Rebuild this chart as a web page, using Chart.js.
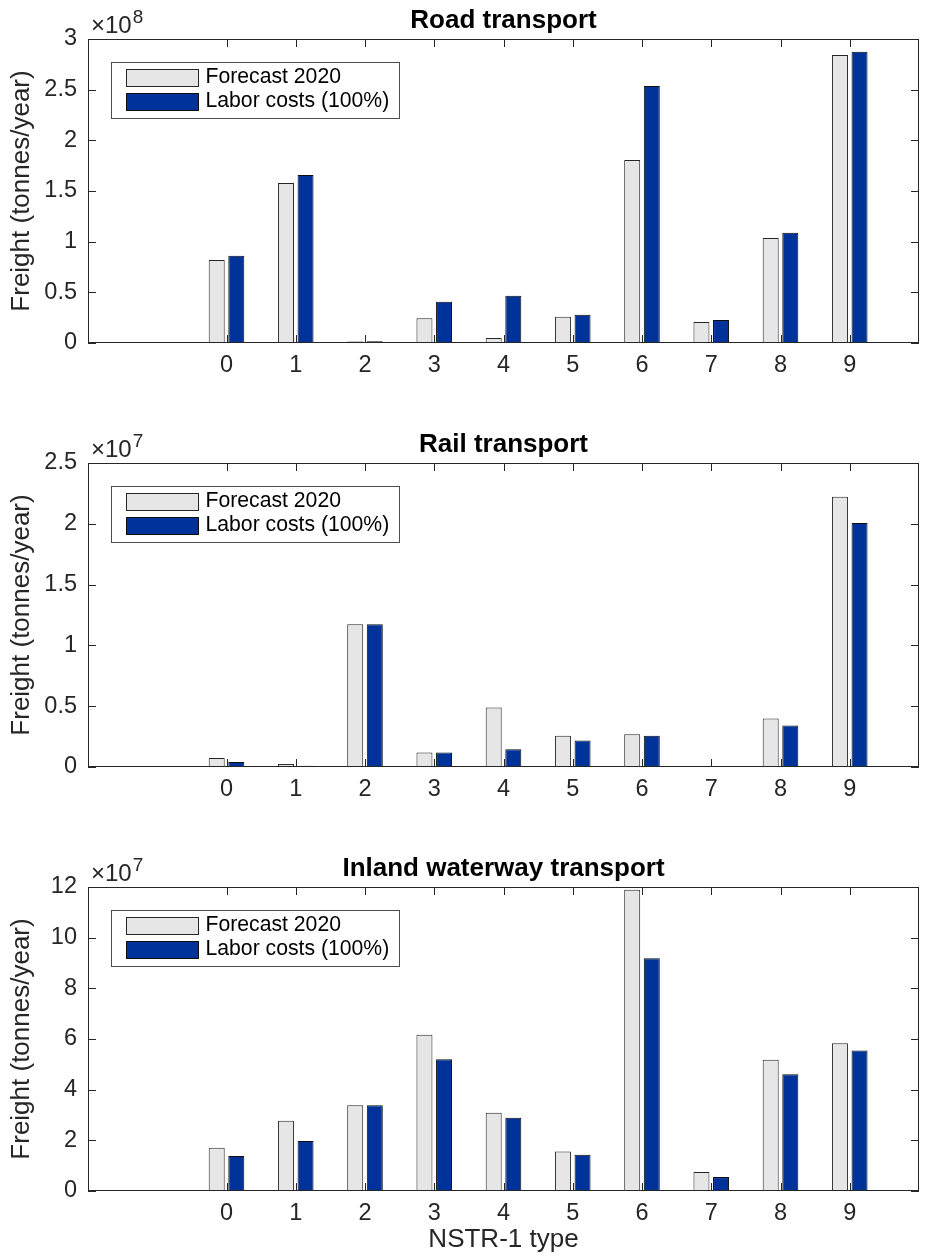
<!DOCTYPE html>
<html>
<head>
<meta charset="utf-8">
<script src="https://cdn.jsdelivr.net/npm/chart.js@4/dist/chart.umd.min.js"></script>
<style>
  html, body { margin: 0; padding: 0; background: #ffffff; overflow: hidden; }
  #figure { position: relative; width: 926px; height: 1258px; }
  #figure canvas { position: absolute; left: 0; }
</style>
</head>
<body>
<div id="figure">
  <canvas id="road" width="926" height="424" style="top:0px"></canvas>
  <canvas id="rail" width="926" height="424" style="top:424px"></canvas>
  <canvas id="inland" width="926" height="410" style="top:848px"></canvas>
</div>
<script>
// NSTR-1 commodity groups
const categories = [0, 1, 2, 3, 4, 5, 6, 7, 8, 9];
const xTickLabels = ['0', '1', '2', '3', '4', '5', '6', '7', '8', '9'];
const seriesNames = ['Forecast 2020', 'Labor costs (100%)'];

// Freight volumes, tonnes per year
const roadForecast = [8.19e7, 1.58e8, 1.5e6, 2.44e7, 4.9e6, 2.60e7, 1.806e8, 2.07e7, 1.036e8, 2.842e8];
const roadLabor    = [8.61e7, 1.658e8, 1.7e6, 4.08e7, 4.67e7, 2.80e7, 2.536e8, 2.27e7, 1.089e8, 2.875e8];

const railForecast = [7.4e5, 2.5e5, 1.174e7, 1.20e6, 4.90e6, 2.57e6, 2.70e6, 8e4, 3.99e6, 2.222e7];
const railLabor    = [4.1e5, 1.0e5, 1.174e7, 1.20e6, 1.45e6, 2.18e6, 2.57e6, 6e4, 3.42e6, 2.006e7];

const inlandForecast = [1.71e7, 2.77e7, 3.38e7, 6.17e7, 3.09e7, 1.56e7, 1.189e8, 7.5e6, 5.18e7, 5.83e7];
const inlandLabor    = [1.38e7, 1.97e7, 3.38e7, 5.20e7, 2.89e7, 1.43e7, 9.19e7, 5.5e6, 4.61e7, 5.55e7];

// Y tick values and their labels (scaled by the exponent shown above each axis)
const roadYTicks  = [0, 0.5e8, 1e8, 1.5e8, 2e8, 2.5e8, 3e8];
const roadYLabels = ['0', '0.5', '1', '1.5', '2', '2.5', '3'];
const railYTicks  = [0, 0.5e7, 1e7, 1.5e7, 2e7, 2.5e7];
const railYLabels = ['0', '0.5', '1', '1.5', '2', '2.5'];
const inlandYTicks  = [0, 2e7, 4e7, 6e7, 8e7, 10e7, 12e7];
const inlandYLabels = ['0', '2', '4', '6', '8', '10', '12'];

const FONT = "'Liberation Sans', Arial, Helvetica, sans-serif";
const AXIS_COLOR = '#262626';
const FORECAST_FILL = '#e6e6e6';
const LABOR_FILL = '#003399';

Chart.defaults.font.family = FONT;
Chart.defaults.color = AXIS_COLOR;

// Axes box with inward tick marks, legend inside the plot, and the x10^n multiplier
const axesDecor = {
  id: 'axesDecor',
  beforeDatasetsDraw(chart) {
    const { ctx, chartArea: a, scales: { x, y } } = chart;
    const len = 8;
    ctx.save();
    ctx.strokeStyle = AXIS_COLOR;
    ctx.lineWidth = 1;
    ctx.beginPath();
    x.ticks.forEach(t => {
      const px = Math.round(x.getPixelForValue(t.value)) + 0.5;
      ctx.moveTo(px, a.bottom); ctx.lineTo(px, a.bottom - len);
      ctx.moveTo(px, a.top); ctx.lineTo(px, a.top + len);
    });
    y.ticks.forEach(t => {
      const py = Math.round(y.getPixelForValue(t.value)) + 0.5;
      ctx.moveTo(a.left, py); ctx.lineTo(a.left + len, py);
      ctx.moveTo(a.right, py); ctx.lineTo(a.right - len, py);
    });
    ctx.stroke();
    ctx.restore();
  },
  afterDatasetsDraw(chart, args, opts) {
    const { ctx, chartArea: a } = chart;
    ctx.save();
    // axes box
    ctx.strokeStyle = AXIS_COLOR;
    ctx.lineWidth = 1;
    ctx.strokeRect(Math.round(a.left) + 0.5, Math.round(a.top) + 0.5,
                   Math.round(a.right - a.left) - 1, Math.round(a.bottom - a.top) - 1);

    // exponent label
    ctx.fillStyle = AXIS_COLOR;
    ctx.textAlign = 'left';
    ctx.textBaseline = 'alphabetic';
    ctx.font = `24px ${FONT}`;
    const ex = a.left + 3;
    ctx.fillText('\u00d710', ex, a.top - 6);
    const w = ctx.measureText('\u00d710').width;
    ctx.font = `19px ${FONT}`;
    ctx.fillText(opts.exponent, ex + w + 1, a.top - 16);

    // legend
    const bx = Math.round(a.left + 23) + 0.5, by = Math.round(a.top + 23) + 0.5;
    const bw = 288, bh = 56;
    ctx.fillStyle = '#ffffff';
    ctx.fillRect(bx, by, bw, bh);
    ctx.strokeStyle = '#4d4d4d';
    ctx.strokeRect(bx, by, bw, bh);
    ctx.font = `21.2px ${FONT}`;
    ctx.textBaseline = 'middle';
    chart.data.datasets.forEach((ds, i) => {
      const sy = by + 7 + i * 24;
      ctx.fillStyle = ds.backgroundColor;
      ctx.fillRect(bx + 15, sy, 72, 17);
      ctx.strokeStyle = ds.borderColor;
      ctx.strokeRect(bx + 15, sy, 72, 17);
      ctx.fillStyle = '#000000';
      ctx.fillText(ds.label, bx + 94, sy + 7.3);
    });
    ctx.restore();
  }
};

function makeChart(id, title, forecast, labor, yTicks, yLabels, exponent, xTitle) {
  const ctx = document.getElementById(id);
  return new Chart(ctx, {
    type: 'bar',
    data: {
      datasets: [
        {
          label: seriesNames[0],
          data: categories.map((c, i) => ({ x: c, y: forecast[i] })),
          backgroundColor: FORECAST_FILL,
          borderColor: '#262626',
          borderWidth: 1,
          borderSkipped: false
        },
        {
          label: seriesNames[1],
          data: categories.map((c, i) => ({ x: c, y: labor[i] })),
          backgroundColor: LABOR_FILL,
          borderColor: '#0d0d0d',
          borderWidth: 1,
          borderSkipped: false
        }
      ]
    },
    options: {
      responsive: false,
      animation: false,
      devicePixelRatio: 1,
      categoryPercentage: 0.566,
      barPercentage: 0.816,
      layout: { padding: { top: 0, right: 7, bottom: 0, left: 0 } },
      plugins: {
        legend: { display: false },
        tooltip: { enabled: false },
        title: {
          display: true,
          text: title,
          fullSize: false,
          color: '#000000',
          font: { size: 26, weight: 'bold', family: FONT, lineHeight: 1.2 },
          padding: { top: 5.4, bottom: 2.4 }
        },
        axesDecor: { exponent }
      },
      scales: {
        x: {
          type: 'linear',
          min: -2,
          max: 10,
          offset: false,
          grid: { display: false, drawTicks: false },
          border: { display: false },
          afterBuildTicks: s => { s.ticks = categories.map(v => ({ value: v })); },
          afterFit: s => { s.height = s.chart.height - 343; },
          ticks: {
            autoSkip: false,
            maxRotation: 0,
            padding: 8,
            color: AXIS_COLOR,
            font: { size: 23.5, family: FONT, lineHeight: 1.2 },
            callback: (v, i) => xTickLabels[i]
          },
          title: {
            display: !!xTitle,
            text: xTitle || '',
            color: AXIS_COLOR,
            font: { size: 26, family: FONT, lineHeight: 1.2 },
            padding: { top: 0, bottom: 2.4 }
          }
        },
        y: {
          min: yTicks[0],
          max: yTicks[yTicks.length - 1],
          grid: { display: false, drawTicks: false },
          border: { display: false },
          afterBuildTicks: s => { s.ticks = yTicks.map(v => ({ value: v })); },
          afterFit: s => { s.width = 88; },
          ticks: {
            padding: 11,
            color: AXIS_COLOR,
            font: { size: 23.5, family: FONT, lineHeight: 1.2 },
            callback: (v, i) => yLabels[i]
          },
          title: {
            display: true,
            text: 'Freight (tonnes/year)',
            color: AXIS_COLOR,
            font: { size: 26, family: FONT, lineHeight: 1.2 },
            padding: { top: 6.4, bottom: 0 }
          }
        }
      }
    },
    plugins: [axesDecor]
  });
}

makeChart('road', 'Road transport', roadForecast, roadLabor, roadYTicks, roadYLabels, '8');
makeChart('rail', 'Rail transport', railForecast, railLabor, railYTicks, railYLabels, '7');
makeChart('inland', 'Inland waterway transport', inlandForecast, inlandLabor, inlandYTicks, inlandYLabels, '7', 'NSTR-1 type');
</script>
</body>
</html>
